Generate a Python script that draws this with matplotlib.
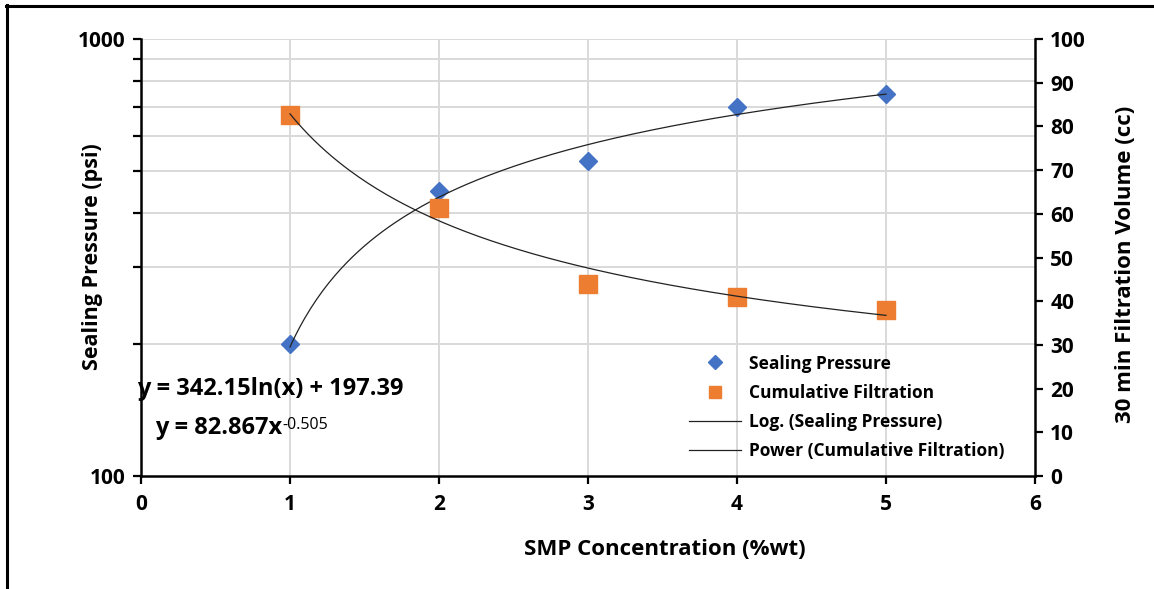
import numpy as np
import matplotlib
matplotlib.use("Agg")
import matplotlib.pyplot as plt
from matplotlib.lines import Line2D

plt.rcParams['font.family'] = ['Open Sans', 'DejaVu Sans']
plt.rcParams['font.weight'] = 'bold'

# SMP concentration (%wt)
concentration = [1, 2, 3, 4, 5]
# Sealing pressure (psi), left log axis
sealing_pressure = [200, 450, 525, 700, 750]
# 30 min cumulative filtration volume (cc), right axis
filtration = [82.5, 61.3, 44, 41, 38]

# Trendline coefficients
log_a, log_b = 342.15, 197.39      # y = a ln(x) + b
pow_a, pow_b = 82.867, -0.505      # y = a x^b

x_ticks = [0, 1, 2, 3, 4, 5, 6]
right_ticks = list(range(0, 101, 10))

W, H = 1154, 589
fig = plt.figure(figsize=(W / 100, H / 100), dpi=100)
ax = fig.add_axes([141 / W, 1 - 476 / H, (1035 - 141) / W, (476 - 39) / H])

grid_c = '#d9d9d9'
ax.set_yscale('log')
ax.set_ylim(100, 1000)
ax.set_xlim(0, 6)

# gridlines
for v in range(200, 1001, 100):
    ax.axhline(v, color=grid_c, lw=1.4, zorder=0)
for xv in x_ticks[1:-1]:
    ax.axvline(xv, color=grid_c, lw=1.4, zorder=0)

ax.set_yticks([100, 1000])
ax.set_yticklabels(['100', '1000'])
ax.set_yticks(list(range(200, 1000, 100)), minor=True)
ax.yaxis.set_minor_formatter(matplotlib.ticker.NullFormatter())
ax.tick_params(axis='y', which='both', direction='out', length=6, width=1.6,
               labelsize=15, pad=5)
ax.set_xticks(x_ticks)
ax.tick_params(axis='x', direction='out', length=6, width=1.6, labelsize=15, pad=7)

for side in ['left', 'bottom']:
    ax.spines[side].set_linewidth(1.8)
ax.spines['top'].set_visible(False)
ax.spines['right'].set_visible(False)

# log trendline and sealing pressure points
xs = np.linspace(1, 5, 200)
ax.plot(xs, log_a * np.log(xs) + log_b, color='#222222', lw=0.9, zorder=3)
ax.plot(concentration, sealing_pressure, linestyle='none', marker='D',
        markersize=9, color='#4472C4', zorder=2)

ax2 = ax.twinx()
ax2.set_ylim(0, 100)
ax2.set_xlim(0, 6)
ax2.set_yticks(right_ticks)
ax2.tick_params(axis='y', direction='out', length=6, width=1.6, labelsize=15, pad=5)
ax2.spines['right'].set_linewidth(1.8)
for side in ['top', 'left', 'bottom']:
    ax2.spines[side].set_visible(False)
ax2.plot(concentration, filtration, linestyle='none', marker='s',
         markersize=13.5, color='#ED7D31', zorder=2)
ax2.plot(xs, pow_a * xs ** pow_b, color='#222222', lw=0.9, zorder=3)

ax.set_xlabel('SMP Concentration (%wt)', fontsize=16, fontweight='bold')
ax.xaxis.set_label_coords(0.586, -0.145)
ax.set_ylabel('Sealing Pressure (psi)', fontsize=15.5, fontweight='bold')
ax.yaxis.set_label_coords(-0.043, 0.503)
ax2.set_ylabel('30 min Filtration Volume (cc)', fontsize=16, fontweight='bold')
ax2.yaxis.set_label_coords(1.089, 0.485)

# trendline equations
t1 = ax.text(-0.004, 0.2, 'y = 342.15ln(x) + 197.39', transform=ax.transAxes,
             fontsize=17, fontweight='bold', ha='left', va='center')
t2 = ax.text(0.016, 0.11, 'y = 82.867x', transform=ax.transAxes,
             fontsize=17, fontweight='bold', ha='left', va='center')
ax.annotate('-0.505', xy=(1.0, 0.95), xycoords=t2, fontsize=11.5,
            fontweight='normal', ha='left', va='top')

handles = [
    Line2D([], [], linestyle='none', marker='D', markersize=7, color='#4472C4'),
    Line2D([], [], linestyle='none', marker='s', markersize=8, color='#ED7D31'),
    Line2D([], [], color='#222222', lw=0.9),
    Line2D([], [], color='#222222', lw=0.9),
]
labels = ['Sealing Pressure', 'Cumulative Filtration',
          'Log. (Sealing Pressure)', 'Power (Cumulative Filtration)']
leg = ax2.legend(handles, labels, loc='lower left', bbox_to_anchor=(0.595, 0.0),
                 frameon=False, fontsize=12.5, handlelength=3.0, handletextpad=0.5,
                 labelspacing=0.65, numpoints=1)
for t in leg.get_texts():
    t.set_fontweight('bold')

# outer frame (left and top edges)
fig.add_artist(Line2D([7 / W, 7 / W], [0, 1 - 5 / H], transform=fig.transFigure,
                      color='black', lw=2.2))
fig.add_artist(Line2D([6 / W, 1], [1 - 6 / H, 1 - 6 / H], transform=fig.transFigure,
                      color='black', lw=2.2))

fig.savefig('out.png', dpi=100)
